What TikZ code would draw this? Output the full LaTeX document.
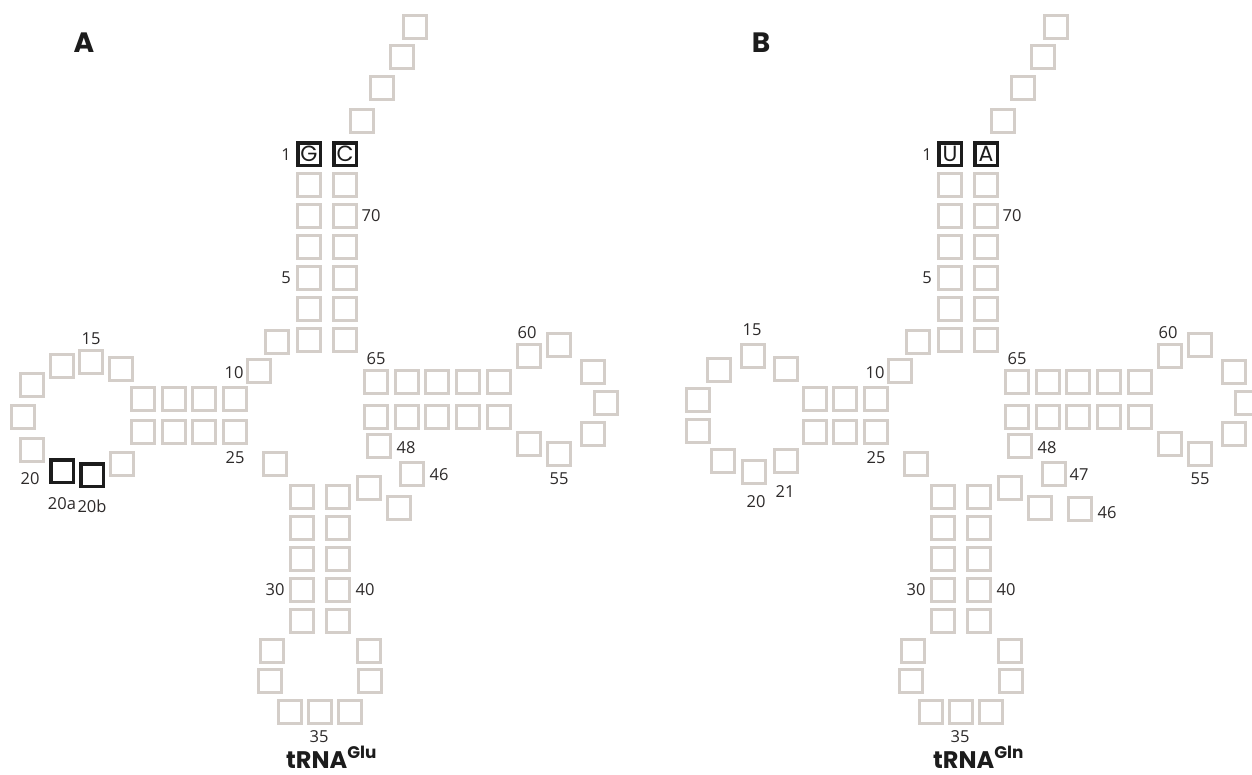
\documentclass[tikz,border=0pt]{standalone}
\usepackage{fontspec}
\setmainfont{Open Sans}
\newfontfamily\headfont{Poppins}
\usetikzlibrary{positioning}
\definecolor{sqgray}{RGB}{212,206,201}
\definecolor{sqdark}{RGB}{28,28,28}
\definecolor{numdark}{RGB}{45,42,42}
\tikzset{
  base/.style={rectangle, draw=sqgray, line width=3pt,
    minimum size=23pt, inner sep=0pt},
  keybase/.style={base, draw=sqdark, line width=3.5pt, minimum size=22.5pt,
    font=\headfont\fontsize{22}{22}\selectfont, text=sqdark},
  num/.style={font=\fontsize{16.5}{16.5}\selectfont, text=numdark, inner sep=0pt},
  panel/.style={font=\headfont\bfseries\fontsize{28}{28}\selectfont,
    text=sqdark, inner sep=0pt},
  title/.style={font=\headfont\bfseries\fontsize{24}{24}\selectfont,
    text=sqdark, inner sep=0pt}
}

% squares shared by both tRNAs: #1 prefix, #2/#3 the 1-72 pair
\newcommand\tRNAarms[3]{%
  % acceptor stem
  \node[keybase] (#1-1) at (309,154) {#2};
  \node[keybase] (#1-72) at (345,154) {#3};
  \foreach \n/\y in {2/185,3/216,4/247,5/278,6/309,7/340}
    \node[base] (#1-\n) at (309,\y) {};
  \foreach \n/\y in {71/185,70/216,69/247,68/278,67/309,66/340}
    \node[base] (#1-\n) at (345,\y) {};
  \foreach \n/\x/\y in {73/362/121,74/382/88,75/402/57,76/415/27}
    \node[base] (#1-\n) at (\x,\y) {};
  % D stem
  \foreach \n/\x/\y in {8/277/342,9/259/371,10/235/399,11/204/399,12/174/399,
      23/174/432,24/204/432,25/235/432,26/275/464}
    \node[base] (#1-\n) at (\x,\y) {};
  % anticodon arm
  \foreach \n/\y in {27/497,28/528,29/559,30/590,31/621}
    \node[base] (#1-\n) at (302,\y) {};
  \foreach \n/\x/\y in {32/272/651,33/270/681,34/290/712,35/320/712,
      36/350/712,37/370/681,38/369/651}
    \node[base] (#1-\n) at (\x,\y) {};
  \foreach \n/\y in {39/621,40/590,41/559,42/528,43/497}
    \node[base] (#1-\n) at (338,\y) {};
  % variable loop
  \foreach \n/\x/\y in {44/369/488,45/399/508,48/379/446}
    \node[base] (#1-\n) at (\x,\y) {};
  % T arm
  \foreach \n/\x in {49/376,50/407,51/437,52/468,53/499}
    \node[base] (#1-\n) at (\x,417) {};
  \foreach \n/\x/\y in {54/529/444,55/559/454,56/593/434,57/606/403,
      58/593/372,59/559/345,60/529/356}
    \node[base] (#1-\n) at (\x,\y) {};
  \foreach \n/\x in {61/499,62/468,63/437,64/407,65/376}
    \node[base] (#1-\n) at (\x,382) {};
  % numbering
  \foreach \t/\x/\y in {1/286/155,70/371/216,5/286/278,10/234/373,25/235/458,
      65/376/359,60/527/333,55/559/479,48/406/448,30/275/590,40/365/590,
      35/319/737}
    \node[num] (#1-l\t) at (\x,\y) {\t};
}

\begin{document}
\begin{tikzpicture}[x=1pt, y=-1pt]
  \useasboundingbox (0,0) rectangle (1252,774);
  \clip (0,0) rectangle (1252,774);

  % A: tRNA-Glu
  \tRNAarms{glu}{G}{C}
  \foreach \n/\x/\y in {13/143/399,22/143/432,14/121/369,15/91/362,16/62/366,
      17/32/385,18/23/417,20/32/450,21/122/464,46/412/474}
    \node[base] (glu-\n) at (\x,\y) {};
  \node[keybase] (glu-20a) at (62,471) {};
  \node[keybase] (glu-20b) at (92,475) {};
  \node[num] (glu-l15) at (91,339) {15};
  \node[num] (glu-l20) at (30,479) {20};
  \node[num] (glu-l20a) at (62,504) {20a};
  \node[num] (glu-l20b) at (92,506) {20b};
  \node[num] (glu-l46) at (439,475) {46};
  \node[panel] (panelA) at (84,43) {A};
  \node[title, anchor=base west] (glu-name) at (286,768) {tRNA\textsuperscript{Glu}};

  % B: tRNA-Gln
  \begin{scope}[xshift=641pt]
    \tRNAarms{gln}{U}{A}
    \foreach \n/\x/\y in {13/145/369,14/112/356,15/78/370,16/57/400,17/57/431,
        18/82/461,20/113/472,21/145/461,47/413/474,46/439/509}
      \node[base] (gln-\n) at (\x,\y) {};
    \node[num] (gln-l15) at (111,330) {15};
    \node[num] (gln-l20) at (115,502) {20};
    \node[num] (gln-l21) at (144,492) {21};
    \node[num] (gln-l47) at (438,475) {47};
    \node[num] (gln-l46) at (466,513) {46};
    \node[panel] (panelB) at (120,43) {B};
    \node[title, anchor=base west] (gln-name) at (292,768) {tRNA\textsuperscript{Gln}};
  \end{scope}
\end{tikzpicture}
\end{document}
